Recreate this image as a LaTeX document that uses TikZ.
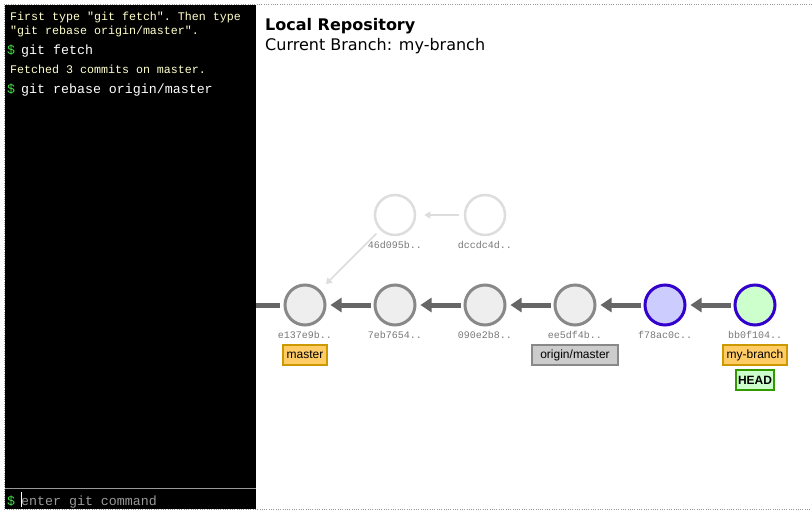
\documentclass[tikz,border=0pt]{standalone}
\usepackage{fontspec}
\setmainfont{DejaVu Sans}
\setsansfont{Liberation Sans}
\setmonofont{Liberation Mono}
\usepackage{tikz}
\usetikzlibrary{arrows.meta}
\definecolor{termgreen}{HTML}{44DD44}
\definecolor{termhint}{HTML}{FFFFCC}
\definecolor{termgray}{HTML}{999999}
\definecolor{framegray}{HTML}{999999}
\definecolor{commitline}{HTML}{888888}
\definecolor{commitfill}{HTML}{EEEEEE}
\definecolor{ghostline}{HTML}{DDDDDD}
\definecolor{localline}{HTML}{3300CC}
\definecolor{localfill}{HTML}{CCCCFF}
\definecolor{headfill}{HTML}{CCFFCC}
\definecolor{arrowgray}{HTML}{666666}
\definecolor{shagray}{HTML}{777777}
\definecolor{branchfill}{HTML}{FFCC66}
\definecolor{branchline}{HTML}{CC9900}
\definecolor{remotefill}{HTML}{CCCCCC}
\definecolor{headline}{HTML}{339900}

\begin{document}
\begin{tikzpicture}[x=1pt,y=-1pt,
    commit/.style={circle,draw=commitline,fill=commitfill,line width=3pt,minimum size=40pt,inner sep=0pt},
    ghost/.style={commit,draw=ghostline,fill=white,line width=2.5pt},
    local/.style={commit,draw=localline,fill=localfill},
    tip/.style={commit,draw=localline,fill=headfill},
    sha/.style={font=\ttfamily\fontsize{10}{12}\selectfont,text=shagray},
    parent/.style={draw=arrowgray,line width=5pt,shorten >=4pt,shorten <=3pt,-{Triangle[length=11pt,width=14pt]}},
    oldparent/.style={draw=ghostline,line width=1.5pt,shorten >=8pt,shorten <=5pt,-{Triangle[length=6pt,width=7pt]}},
    branch/.style={draw=branchline,fill=branchfill,line width=2pt,font=\sffamily\fontsize{12}{14}\selectfont,minimum height=20pt,inner xsep=2pt,inner ysep=0pt},
    remote/.style={branch,draw=commitline,fill=remotefill},
    headbox/.style={branch,draw=headline,fill=headfill,font=\sffamily\bfseries\fontsize{12}{14}\selectfont},
    hint/.style={anchor=base west,text=termhint,font=\ttfamily\fontsize{11.65}{13}\selectfont,inner sep=0pt},
    prompt/.style={anchor=base west,text=termgreen,font=\ttfamily\fontsize{13.3}{15}\selectfont,inner sep=0pt},
    cmd/.style={anchor=base west,text=white,font=\ttfamily\fontsize{13.3}{15}\selectfont,inner sep=0pt}]
  \useasboundingbox (0,0) rectangle (812,512);
  \fill[black] (5,5) rectangle (256,509);
  \draw[termgray,line width=1pt] (5,488) -- (256,488);
  \draw[framegray,line width=1pt,dash pattern=on 1pt off 1.3pt] (812,4) -- (4,4) -- (4,509) -- (812,509);

  \node[hint] (hint1) at (10,20) {First type "git fetch". Then type};
  \node[hint] (hint2) at (10,34) {"git rebase origin/master".};
  \node[prompt] (p1) at (7,54) {\$};
  \node[cmd] (cmd1) at (21,54) {git fetch};
  \node[hint] (out1) at (10,73) {Fetched 3 commits on master.};
  \node[prompt] (p2) at (7,93) {\$};
  \node[cmd] (cmd2) at (21,93) {git rebase origin/master};
  \node[prompt] (p3) at (7,505) {\$};
  \node[cmd,text=termgray] (input) at (21,505) {enter git command};
  \draw[white,line width=1pt] (21,492) -- (21,507);

  \node[anchor=base west,font=\bfseries\fontsize{16}{19}\selectfont,inner sep=0pt] (title) at (265,30) {Local Repository};
  \node[anchor=base west,font=\fontsize{16}{19}\selectfont,inner sep=0pt] (current) at (265,50) {Current Branch: my-branch};

  \node[commit] (ce137) at (305,305) {};
  \node[commit] (c7eb) at (395,305) {};
  \node[commit] (c090) at (485,305) {};
  \node[commit] (cee5) at (575,305) {};
  \node[local] (cf78) at (665,305) {};
  \node[tip] (cbb0) at (755,305) {};
  \node[ghost] (c46d) at (395,215) {};
  \node[ghost] (cdcc) at (485,215) {};
  \coordinate (offleft) at (256,305);

  \node[sha] at (305,335) {e137e9b..};
  \node[sha] at (395,335) {7eb7654..};
  \node[sha] at (485,335) {090e2b8..};
  \node[sha] at (575,335) {ee5df4b..};
  \node[sha] at (665,335) {f78ac0c..};
  \node[sha] at (755,335) {bb0f104..};
  \node[sha] at (395,245) {46d095b..};
  \node[sha] at (485,245) {dccdc4d..};

  \draw[draw=arrowgray,line width=5pt,shorten >=4pt] (offleft) -- (ce137);
  \draw[parent] (c7eb) -- (ce137);
  \draw[parent] (c090) -- (c7eb);
  \draw[parent] (cee5) -- (c090);
  \draw[parent] (cf78) -- (cee5);
  \draw[parent] (cbb0) -- (cf78);
  \draw[oldparent] (cdcc) -- (c46d);
  \draw[oldparent] (c46d) -- (ce137);

  \node[branch,minimum width=44pt] (master) at (305,355) {master};
  \node[remote,minimum width=86pt] (origin) at (575,355) {origin/master};
  \node[branch,minimum width=64pt] (mybranch) at (755,355) {my-branch};
  \node[headbox,minimum width=33pt] (head) at (755,380) {HEAD};
\end{tikzpicture}
\end{document}
